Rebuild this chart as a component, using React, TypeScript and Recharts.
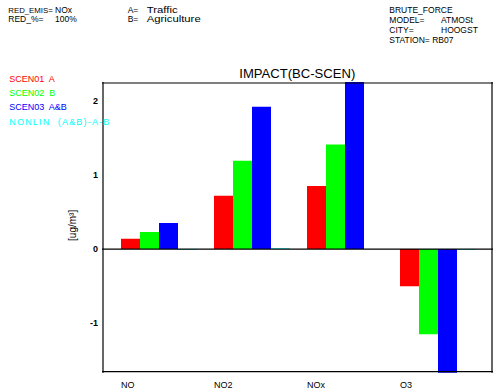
import React from 'react';
import { BarChart, Bar, XAxis, YAxis, ReferenceLine } from 'recharts';

const categories = ['NO', 'NO2', 'NOx', 'O3'];
const scen01A = [0.14, 0.72, 0.85, -0.5];
const scen02B = [0.23, 1.19, 1.41, -1.15];
const scen03AB = [0.35, 1.92, 2.45, -2.1];
const nonlin = [-0.01, 0.01, 0.0, -0.01];

const yLabelTicks = [-1, 0, 1, 2];
const yMinorTicks = [
  -1.6, -1.5, -1.4, -1.3, -1.2, -1.1, -1.0, -0.9, -0.8, -0.7, -0.6, -0.5, -0.4, -0.3, -0.2, -0.1,
  0.0, 0.1, 0.2, 0.3, 0.4, 0.5, 0.6, 0.7, 0.8, 0.9, 1.0, 1.1, 1.2, 1.3, 1.4, 1.5, 1.6, 1.7, 1.8,
  1.9, 2.0, 2.1, 2.2,
];
const xMinorTicks = [0, 1, 2, 3, 4, 5, 6, 7, 8, 9, 10, 11, 12, 13, 14, 15, 16, 17, 18, 19, 20, 21];
const xMajorTicks = [10, 20];
const yDomain: [number, number] = [-1.667, 2.252];
const xTickDomain: [number, number] = [0, 21];

const headerTexts = ['RED_EMIS=', 'NOx', 'A=', 'Traffic', 'RED_%=', '100%', 'B=', 'Agriculture'];
const stationTexts = ['BRUTE_FORCE', 'MODEL=', 'ATMOSt', 'CITY=', 'HOOGST', 'STATION= RB07'];
const legendLabels = ['SCEN01  A', 'SCEN02  B', 'SCEN03  A&B', 'NONLIN  (A&B)-A-B'];
const seriesColors = ['#ff0000', '#00ff00', '#0000ff', '#00ffff'];
const titleText = 'IMPACT(BC-SCEN)';
const unitText = '[ug/m\u00b3]';

// layout: x, baseline y, optional forced text length
const headerLayout: [number, number, number?][] = [
  [8.3, 12.5],
  [55, 12.5],
  [127.7, 12.5],
  [146.7, 12.5, 31],
  [8.3, 21.5],
  [55, 21.5],
  [127.7, 21.5],
  [146.7, 21.5, 54],
];
const stationLayout: [number, number, number?][] = [
  [389.3, 12.5],
  [389.3, 22.5],
  [441, 22.5],
  [389.3, 32.5],
  [441, 32.5],
  [389.3, 42.5],
];
const legendLayout: [number, number, number?][] = [
  [9.3, 82],
  [9.3, 96],
  [9.3, 110],
  [9.3, 124.5, 100],
];

const data = categories.map((name, i) => ({
  name,
  s1: scen01A[i],
  s2: scen02B[i],
  s3: scen03AB[i],
  nl: nonlin[i],
}));

const FONT = "'Liberation Sans', Arial, Helvetica, sans-serif";

const CatTick = (props: any) => {
  const { x, y, payload } = props;
  return (
    <text x={x - 37} y={y + 15} textAnchor="start" fontSize={9} fontFamily={FONT} fill="#000">
      {payload.value}
    </text>
  );
};

const tickLineStyle = { stroke: '#444' };
const frameStyle = { stroke: '#000', strokeWidth: 1.2 };

const SvgText = ({ t, pos, size, color, adjust }: any) => (
  <text
    x={pos[0]}
    y={pos[1]}
    fontSize={size}
    fill={color}
    style={{ whiteSpace: 'pre' }}
    {...(pos[2] ? { textLength: pos[2], lengthAdjust: adjust || 'spacingAndGlyphs' } : {})}
  >
    {t}
  </text>
);

export default function App() {
  return (
    <div style={{ position: 'absolute', left: 0, top: 0, width: 498, height: 391, background: '#fff' }}>
      <BarChart
        width={498}
        height={391}
        data={data}
        margin={{ top: 82, right: 5, bottom: 0, left: 0 }}
        barCategoryGap={9.5}
        barGap={0}
      >
        <XAxis
          xAxisId="cat"
          dataKey="name"
          type="category"
          padding={{ left: 9.5, right: 9.5 }}
          height={18.3}
          axisLine={false}
          tickLine={false}
          tickSize={0}
          tickMargin={0}
          tick={<CatTick />}
          interval={0}
        />
        <XAxis
          xAxisId="bMinor"
          type="number"
          orientation="bottom"
          domain={xTickDomain}
          allowDataOverflow
          ticks={xMinorTicks}
          mirror
          height={1}
          tick={false}
          tickSize={3}
          axisLine={frameStyle}
          tickLine={tickLineStyle}
          interval={0}
        />
        <XAxis
          xAxisId="bMajor"
          type="number"
          orientation="bottom"
          domain={xTickDomain}
          allowDataOverflow
          ticks={xMajorTicks}
          mirror
          height={1}
          tick={false}
          tickSize={5}
          axisLine={false}
          tickLine={tickLineStyle}
          interval={0}
        />
        <XAxis
          xAxisId="tMinor"
          type="number"
          orientation="top"
          domain={xTickDomain}
          allowDataOverflow
          ticks={xMinorTicks}
          mirror
          height={1}
          tick={false}
          tickSize={3}
          axisLine={frameStyle}
          tickLine={tickLineStyle}
          interval={0}
        />
        <XAxis
          xAxisId="tMajor"
          type="number"
          orientation="top"
          domain={xTickDomain}
          allowDataOverflow
          ticks={xMajorTicks}
          mirror
          height={1}
          tick={false}
          tickSize={5}
          axisLine={false}
          tickLine={tickLineStyle}
          interval={0}
        />
        <YAxis
          yAxisId="left"
          type="number"
          domain={yDomain}
          allowDataOverflow
          ticks={yLabelTicks}
          width={102}
          axisLine={false}
          tickLine={false}
          tickSize={0}
          tickMargin={4}
          interval={0}
          tick={{ fontSize: 9, fontFamily: FONT, fill: '#000', fontWeight: 'bold' }}
          label={{
            value: unitText,
            angle: -90,
            position: 'center',
            dx: 21,
            dy: -2,
            style: { fontSize: 10, fontFamily: FONT, fill: '#000' },
          }}
        />
        <YAxis
          yAxisId="lMinor"
          type="number"
          orientation="left"
          domain={yDomain}
          allowDataOverflow
          ticks={yMinorTicks}
          mirror
          width={1}
          tick={false}
          tickSize={4}
          axisLine={frameStyle}
          tickLine={tickLineStyle}
          interval={0}
        />
        <YAxis
          yAxisId="lMajor"
          type="number"
          orientation="left"
          domain={yDomain}
          allowDataOverflow
          ticks={yLabelTicks}
          mirror
          width={1}
          tick={false}
          tickSize={7}
          axisLine={false}
          tickLine={tickLineStyle}
          interval={0}
        />
        <YAxis
          yAxisId="rMinor"
          type="number"
          orientation="right"
          domain={yDomain}
          allowDataOverflow
          ticks={yMinorTicks}
          mirror
          width={1}
          tick={false}
          tickSize={4}
          axisLine={frameStyle}
          tickLine={tickLineStyle}
          interval={0}
        />
        <YAxis
          yAxisId="rMajor"
          type="number"
          orientation="right"
          domain={yDomain}
          allowDataOverflow
          ticks={yLabelTicks}
          mirror
          width={1}
          tick={false}
          tickSize={7}
          axisLine={false}
          tickLine={tickLineStyle}
          interval={0}
        />
        <Bar xAxisId="cat" yAxisId="left" dataKey="s1" fill={seriesColors[0]} isAnimationActive={false} />
        <Bar xAxisId="cat" yAxisId="left" dataKey="s2" fill={seriesColors[1]} isAnimationActive={false} />
        <Bar xAxisId="cat" yAxisId="left" dataKey="s3" fill={seriesColors[2]} isAnimationActive={false} />
        <Bar xAxisId="cat" yAxisId="left" dataKey="nl" fill={seriesColors[3]} isAnimationActive={false} />
        <ReferenceLine xAxisId="cat" yAxisId="left" y={0} stroke="#000" strokeWidth={1.2} />
      </BarChart>
      <svg
        width={498}
        height={391}
        style={{ position: 'absolute', left: 0, top: 0, pointerEvents: 'none' }}
        fontFamily={FONT}
      >
        {headerTexts.map((t, i) => (
          <SvgText key={'h' + i} t={t} pos={headerLayout[i]} size={i === 0 ? 7.8 : 8.5} color="#000" />
        ))}
        {stationTexts.map((t, i) => (
          <SvgText key={'s' + i} t={t} pos={stationLayout[i]} size={8.5} color="#000" />
        ))}
        {legendLabels.map((t, i) => (
          <SvgText
            key={'lg' + i}
            t={t}
            pos={legendLayout[i]}
            size={9}
            color={seriesColors[i]}
            adjust="spacing"
          />
        ))}
        <text
          x={239.3}
          y={77.5}
          textLength={116}
          lengthAdjust="spacingAndGlyphs"
          fontSize={12.5}
          fill="#000"
        >
          {titleText}
        </text>
      </svg>
    </div>
  );
}
